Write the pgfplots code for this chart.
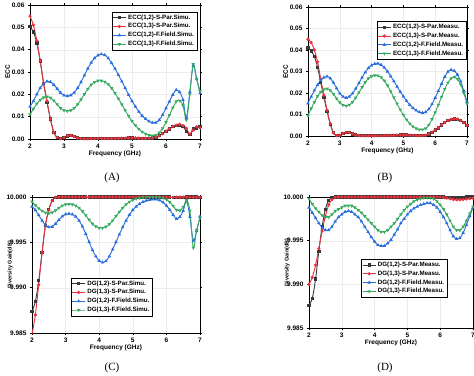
\documentclass[border=0pt]{standalone}
\usepackage{pgfplots}
\pgfplotsset{compat=1.18}
\usepackage{pgfplotstable}
\usepackage{fontspec}
\setmainfont{Liberation Sans}
\newfontfamily\capfont{Liberation Serif}
\definecolor{cK}{RGB}{55,55,55}
\definecolor{cR}{RGB}{232,50,60}
\definecolor{cB}{RGB}{40,110,220}
\definecolor{cG}{RGB}{55,170,95}

\pgfplotstableread{
x k r b g
2.0 0.0503 0.055 0.0145 0.011
2.1 0.048 0.051 0.017 0.0135
2.2 0.043 0.044 0.020 0.0158
2.3 0.035 0.035 0.0228 0.0175
2.4 0.025 0.025 0.0248 0.0186
2.5 0.0165 0.017 0.0258 0.019
2.6 0.009 0.009 0.0256 0.0185
2.7 0.003 0.003 0.0243 0.0172
2.8 0.0007 0.0006 0.0225 0.0155
2.9 0.0002 0.0001 0.0207 0.0138
3.0 0.0006 0.0005 0.0195 0.0128
3.1 0.0014 0.0015 0.0192 0.0125
3.2 0.0015 0.0016 0.0196 0.0128
3.3 0.0010 0.0011 0.0208 0.0138
3.4 0.0005 0.0005 0.0228 0.0155
3.5 0.0002 0.0002 0.0255 0.0177
3.6 0.0001 0.0001 0.0285 0.0201
3.7 0.0001 0.0001 0.0315 0.0224
3.8 0.0002 0.0002 0.0342 0.0243
3.9 0.0002 0.0002 0.0362 0.0255
4.0 0.0003 0.0003 0.0375 0.0261
4.1 0.0003 0.0003 0.0380 0.0261
4.2 0.0002 0.0002 0.0376 0.0256
4.3 0.0002 0.0002 0.0362 0.0245
4.4 0.0002 0.0002 0.0340 0.0228
4.5 0.0003 0.0003 0.0315 0.0205
4.6 0.0003 0.0003 0.0287 0.0181
4.7 0.0003 0.0004 0.0258 0.0155
4.8 0.0004 0.0004 0.0228 0.0128
4.9 0.0005 0.0005 0.0198 0.0103
5.0 0.0005 0.0005 0.0170 0.0080
5.1 0.0004 0.0005 0.0145 0.0061
5.2 0.0003 0.0004 0.0123 0.0045
5.3 0.0003 0.0003 0.0104 0.0032
5.4 0.0003 0.0003 0.0090 0.0023
5.5 0.0004 0.0004 0.0079 0.0017
5.6 0.0005 0.0005 0.0073 0.0015
5.7 0.0008 0.0008 0.0073 0.0017
5.8 0.0015 0.0014 0.0085 0.0028
5.9 0.0025 0.0024 0.0108 0.0048
6.0 0.0035 0.0035 0.0138 0.0075
6.1 0.0045 0.0046 0.0168 0.0107
6.2 0.0055 0.0056 0.0198 0.0140
6.3 0.0060 0.0062 0.0220 0.0168
6.4 0.0062 0.0066 0.0210 0.0172
6.5 0.0055 0.0060 0.0175 0.0150
6.6 0.0035 0.0048 0.0095 0.0085
6.7 0.0020 0.0022 0.0210 0.0200
6.8 0.0045 0.0040 0.0330 0.0335
6.9 0.0050 0.0055 0.0270 0.0270
7.0 0.0055 0.0050 0.0205 0.0215
}\tabA

\pgfplotstableread{
x k r b g
2.0 0.0410 0.0450 0.0152 0.0095
2.1 0.0395 0.0435 0.0183 0.0128
2.2 0.0370 0.0400 0.0212 0.0158
2.3 0.0320 0.0345 0.0238 0.0185
2.4 0.0250 0.0265 0.0258 0.0205
2.5 0.0180 0.0190 0.0272 0.0217
2.6 0.0115 0.0120 0.0277 0.0220
2.7 0.0055 0.0058 0.0268 0.0212
2.8 0.0015 0.0015 0.0248 0.0195
2.9 0.0002 0.0002 0.0222 0.0174
3.0 0.0004 0.0004 0.0198 0.0156
3.1 0.0011 0.0011 0.0183 0.0144
3.2 0.0017 0.0017 0.0178 0.0140
3.3 0.0016 0.0016 0.0183 0.0145
3.4 0.0010 0.0010 0.0198 0.0158
3.5 0.0005 0.0005 0.0220 0.0178
3.6 0.0002 0.0002 0.0246 0.0202
3.7 0.0001 0.0001 0.0272 0.0227
3.8 0.0001 0.0001 0.0296 0.0250
3.9 0.0001 0.0001 0.0316 0.0268
4.0 0.0001 0.0001 0.0329 0.0278
4.1 0.0001 0.0001 0.0336 0.0282
4.2 0.0001 0.0001 0.0337 0.0281
4.3 0.0001 0.0001 0.0331 0.0273
4.4 0.0002 0.0002 0.0318 0.0257
4.5 0.0002 0.0002 0.0300 0.0235
4.6 0.0003 0.0003 0.0278 0.0208
4.7 0.0003 0.0003 0.0255 0.0179
4.8 0.0004 0.0004 0.0230 0.0150
4.9 0.0005 0.0005 0.0206 0.0123
5.0 0.0005 0.0005 0.0184 0.0098
5.1 0.0005 0.0005 0.0163 0.0076
5.2 0.0004 0.0004 0.0145 0.0058
5.3 0.0003 0.0003 0.0130 0.0044
5.4 0.0002 0.0002 0.0119 0.0035
5.5 0.0002 0.0002 0.0111 0.0030
5.6 0.0002 0.0002 0.0108 0.0030
5.7 0.0004 0.0004 0.0111 0.0035
5.8 0.0009 0.0009 0.0125 0.0052
5.9 0.0018 0.0018 0.0148 0.0078
6.0 0.0028 0.0028 0.0178 0.0110
6.1 0.0038 0.0038 0.0210 0.0145
6.2 0.0052 0.0052 0.0243 0.0182
6.3 0.0063 0.0063 0.0275 0.0218
6.4 0.0072 0.0072 0.0299 0.0248
6.5 0.0078 0.0078 0.0308 0.0268
6.6 0.0080 0.0080 0.0303 0.0275
6.7 0.0078 0.0078 0.0285 0.0265
6.8 0.0072 0.0072 0.0255 0.0240
6.9 0.0062 0.0062 0.0210 0.0200
7.0 0.0050 0.0050 0.0160 0.0150
}\tabB

\pgfplotstableread{
x k r b g
2.0 9.98735 9.98488 9.99895 9.99950
2.1 9.98848 9.98700 9.99856 9.99909
2.2 9.99076 9.99032 9.99800 9.99875
2.3 9.99388 9.99388 9.99740 9.99847
2.4 9.99688 9.99688 9.99692 9.99827
2.5 9.99864 9.99856 9.99667 9.99820
2.6 9.99960 9.99960 9.99672 9.99829
2.7 9.99996 9.99996 9.99705 9.99852
2.8 10 10 9.99747 9.99880
2.9 10 10 9.99786 9.99905
3.0 10 10 9.99810 9.99918
3.1 10 10 9.99816 9.99922
3.2 10 10 9.99808 9.99918
3.3 10 10 9.99784 9.99905
3.4 10 10 9.99740 9.99880
3.5 10 10 9.99675 9.99843
3.6 10 10 9.99594 9.99798
3.7 10 10 9.99504 9.99749
3.8 10 10 9.99415 9.99705
3.9 10 10 9.99345 9.99675
4.0 10 10 9.99297 9.99659
4.1 10 10 9.99278 9.99659
4.2 10 10 9.99293 9.99672
4.3 10 10 9.99345 9.99700
4.4 10 10 9.99422 9.99740
4.5 10 10 9.99504 9.99790
4.6 10 10 9.99588 9.99836
4.7 10 10 9.99667 9.99880
4.8 10 10 9.99740 9.99918
4.9 10 10 9.99804 9.99947
5.0 10 10 9.99856 9.99968
5.1 10 10 9.99895 9.99981
5.2 10 10 9.99924 9.99990
5.3 10 10 9.99946 9.99995
5.4 10 10 9.99960 9.99997
5.5 10 10 9.99969 9.99999
5.6 10 10 9.99973 9.99999
5.7 10 10 9.99973 9.99999
5.8 10 10 9.99964 9.99996
5.9 10 10 9.99942 9.99988
6.0 9.99999 9.99999 9.99905 9.99972
6.1 9.99999 9.99999 9.99859 9.99943
6.2 9.99998 9.99998 9.99804 9.99902
6.3 9.99998 9.99998 9.99758 9.99859
6.4 9.99998 9.99998 9.99780 9.99852
6.5 9.99998 9.99998 9.99847 9.99888
6.6 9.99999 9.99999 9.99955 9.99964
6.7 10 10 9.99780 9.99850
6.8 9.99999 9.99999 9.99518 9.99440
6.9 9.99999 9.99998 9.99625 9.99636
7.0 9.99998 9.99998 9.99785 9.99769
}\tabC

\pgfplotstableread{
x k r b g
2.0 9.9876 9.9900 9.9988 9.9998
2.1 9.9884 9.9908 9.9982 9.9992
2.2 9.9906 9.9922 9.9976 9.9987
2.3 9.9938 9.9941 9.9970 9.9983
2.4 9.9966 9.9961 9.9965 9.9979
2.5 9.9986 9.9978 9.9962 9.9977
2.6 9.9996 9.9991 9.9962 9.9977
2.7 9.99995 9.9997 9.9966 9.9980
2.8 10 9.99995 9.9972 9.9984
2.9 10 10 9.9977 9.9986
3.0 10 10 9.9980 9.9988
3.1 10 10 9.9983 9.9990
3.2 10 10 9.9984 9.9990
3.3 10 10 9.9983 9.9990
3.4 10 10 9.9980 9.9988
3.5 10 10 9.9977 9.9985
3.6 10 10 9.9972 9.9982
3.7 10 10 9.9966 9.9978
3.8 10 10 9.9960 9.9974
3.9 10 10 9.9954 9.9970
4.0 10 10 9.9949 9.9966
4.1 10 10 9.9945 9.9962
4.2 10 10 9.9944 9.9960
4.3 10 10 9.9944 9.9960
4.4 10 10 9.9947 9.9962
4.5 10 10 9.9951 9.9966
4.6 10 10 9.9957 9.9970
4.7 10 10 9.9963 9.9975
4.8 10 10 9.9970 9.9980
4.9 10 10 9.9975 9.9985
5.0 10 10 9.9980 9.9989
5.1 10 10 9.9984 9.9992
5.2 10 10 9.9987 9.9995
5.3 10 10 9.9989 9.9997
5.4 10 10 9.9991 9.9998
5.5 10 10 9.9992 9.9999
5.6 10 10 9.9993 9.9999
5.7 10 10 9.9993 9.9999
5.8 10 10 9.9991 9.9998
5.9 10 10 9.9988 9.9995
6.0 10 10 9.9983 9.9991
6.1 10 9.99995 9.9977 9.9986
6.2 9.99998 9.99988 9.9970 9.9980
6.3 9.99997 9.99980 9.9962 9.9973
6.4 9.99996 9.99972 9.9955 9.9966
6.5 9.99995 9.99968 9.9952 9.9962
6.6 9.99996 9.99968 9.9953 9.9962
6.7 9.99998 9.99972 9.9959 9.9966
6.8 9.99999 9.99977 9.9968 9.9973
6.9 10 9.99982 9.9978 9.9981
7.0 10 9.99988 9.9988 9.9989
}\tabD

\pgfplotsset{
  panel/.style={
    scale only axis, anchor=south west,
    xmin=2, xmax=7, xtick={2,3,4,5,6,7},
    grid=major, major grid style={gray!15, line width=0.3pt},
    axis line style={line width=0.8pt},
    tick align=outside, major tick length=2pt,
    tick style={black, line width=0.6pt},
    tick label style={font=\bfseries\fontsize{6.5}{7}\selectfont},
    label style={font=\bfseries\fontsize{6.5}{7}\selectfont},
    /pgf/number format/assume math mode=true,
    scaled y ticks=false,
    xlabel={Frequency (GHz)},
    xlabel style={yshift=4pt},
    ylabel style={yshift=-5pt},
    xticklabel style={yshift=1pt},
    legend cell align=left,
    legend style={font=\bfseries\fontsize{6.2}{6.6}\selectfont, draw=black, line width=0.4pt, inner sep=0.8pt, row sep=-1.2pt},
    legend image code/.code={
      \draw[mark repeat=2,mark phase=2,#1] plot coordinates {(0cm,0cm) (0.22cm,0cm) (0.44cm,0cm)};
    },
    every axis plot/.append style={line width=0.9pt, mark size=1.15pt, smooth},
  },
  ecc/.style={ymin=0, ymax=0.06, ytick={0,0.01,0.02,0.03,0.04,0.05,0.06},
    yticklabel style={/pgf/number format/.cd, fixed, fixed zerofill, precision=2}, ylabel={ECC}},
  dg/.style={ymin=9.985, ymax=10, ytick={9.985,9.99,9.995,10},
    yticklabel style={/pgf/number format/.cd, fixed, fixed zerofill, precision=3, 1000 sep={}}, ylabel={Diversity Gain(dB)},
    ylabel style={yshift=-8pt, font=\bfseries\fontsize{5.5}{6}\selectfont}},
  sK/.style={color=cK, mark=square*},
  sR/.style={color=cR, mark=*},
  sB/.style={color=cB, mark=triangle*},
  sG/.style={color=cG, mark=triangle*, mark options={rotate=180}},
}

\begin{document}
\begin{tikzpicture}
\path[use as bounding box] (0pt,0pt) rectangle (474pt,-375pt);

\begin{axis}[panel, ecc, at={(30pt,-139pt)}, width=170pt, height=134pt,
  legend style={at={(0.982,0.95)}, anchor=north east}]
\addplot[sK] table[x=x,y=k]{\tabA};
\addplot[sR] table[x=x,y=r]{\tabA};
\addplot[sB] table[x=x,y=b]{\tabA};
\addplot[sG] table[x=x,y=g]{\tabA};
\legend{ECC(1{,}2)-S-Par.Simu., ECC(1{,}3)-S-Par.Simu., ECC(1{,}2)-F.Field.Simu., ECC(1{,}3)-F.Field.Simu.}
\end{axis}

\begin{axis}[panel, ecc, at={(308pt,-136pt)}, width=159pt, height=129pt,
  legend style={at={(0.994,0.89)}, anchor=north east}]
\addplot[sK] table[x=x,y=k]{\tabB};
\addplot[sR] table[x=x,y=r]{\tabB};
\addplot[sB] table[x=x,y=b]{\tabB};
\addplot[sG] table[x=x,y=g]{\tabB};
\legend{ECC(1{,}2)-S-Par.Measu., ECC(1{,}3)-S-Par.Measu., ECC(1{,}2)-F.Field.Measu., ECC(1{,}3)-F.Field.Measu.}
\end{axis}

\begin{axis}[panel, dg, at={(32pt,-333pt)}, width=168pt, height=136pt,
  legend style={at={(0.232,0.125)}, anchor=south west}]
\addplot[sK] table[x=x,y=k]{\tabC};
\addplot[sR] table[x=x,y=r]{\tabC};
\addplot[sB] table[x=x,y=b]{\tabC};
\addplot[sG] table[x=x,y=g]{\tabC};
\legend{DG(1{,}2)-S-Par.Simu., DG(1{,}3)-S-Par.Simu., DG(1{,}2)-F.Field.Simu., DG(1{,}3)-F.Field.Simu.}
\end{axis}

\begin{axis}[panel, dg, at={(309pt,-328pt)}, width=164pt, height=131pt,
  legend style={at={(0.32,0.527)}, anchor=north west}]
\addplot[sK] table[x=x,y=k]{\tabD};
\addplot[sR] table[x=x,y=r]{\tabD};
\addplot[sB] table[x=x,y=b]{\tabD};
\addplot[sG] table[x=x,y=g]{\tabD};
\legend{DG(1{,}2)-S-Par.Measu., DG(1{,}3)-S-Par.Measu., DG(1{,}2)-F.Field.Measu., DG(1{,}3)-F.Field.Measu.}
\end{axis}

\node[font=\capfont\fontsize{11}{12}\selectfont] at (112pt,-178pt) {(A)};
\node[font=\capfont\fontsize{11}{12}\selectfont] at (385pt,-178pt) {(B)};
\node[font=\capfont\fontsize{11}{12}\selectfont] at (112pt,-368pt) {(C)};
\node[font=\capfont\fontsize{11}{12}\selectfont] at (385pt,-368pt) {(D)};
\end{tikzpicture}
\end{document}
